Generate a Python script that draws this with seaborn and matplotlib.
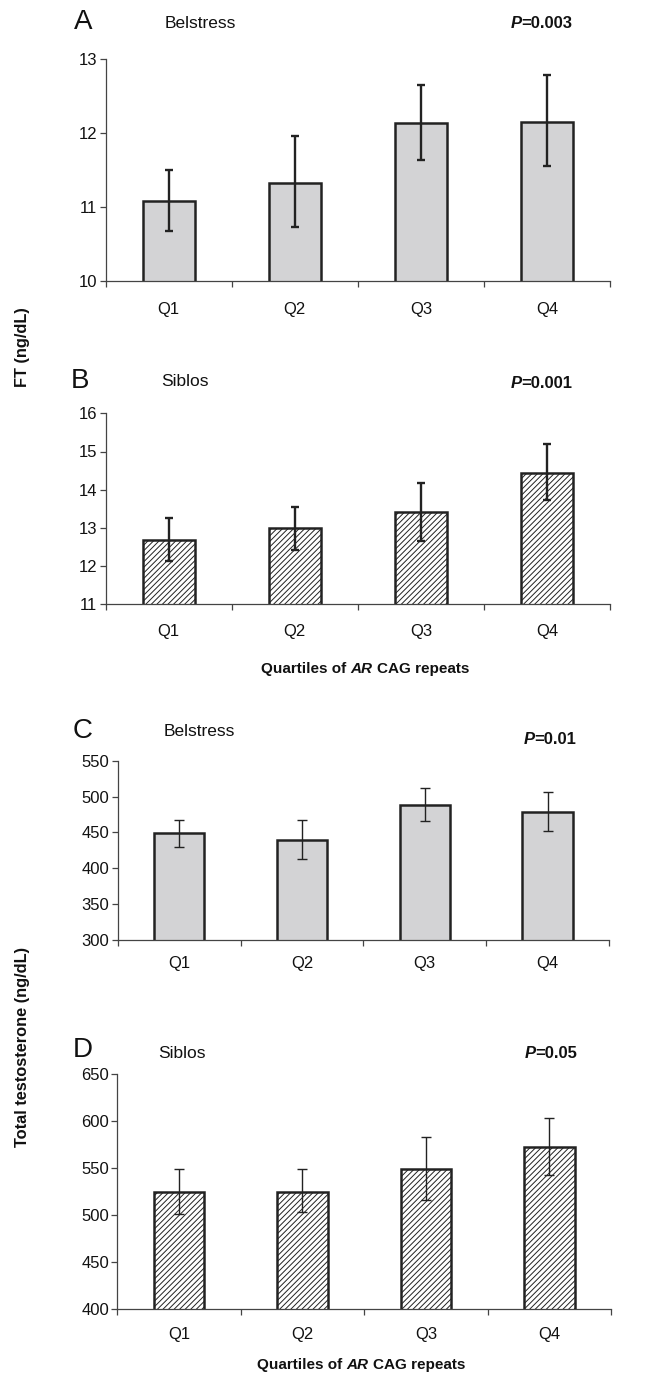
import matplotlib
matplotlib.use("Agg")
import matplotlib.pyplot as plt
import seaborn as sns
import pandas as pd
import numpy as np

# ---- data ----
quartiles = ["Q1", "Q2", "Q3", "Q4"]

A_mean = [11.08, 11.33, 12.14, 12.15]
A_low = [10.67, 10.73, 11.63, 11.56]
A_high = [11.50, 11.96, 12.65, 12.78]

B_mean = [12.69, 13.00, 13.42, 14.45]
B_low = [12.13, 12.42, 12.65, 13.74]
B_high = [13.25, 13.55, 14.18, 15.20]

C_mean = [449, 439, 488, 478]
C_low = [429, 413, 466, 452]
C_high = [467, 467, 512, 507]

D_mean = [525, 525, 549, 572]
D_low = [501, 503, 516, 543]
D_high = [549, 549, 583, 603]

panel_letters = ["A", "B", "C", "D"]
cohorts = ["Belstress", "Siblos", "Belstress", "Siblos"]
p_values = ["=0.003", "=0.001", "=0.01", "=0.05"]
y_ticks_A = [10, 11, 12, 13]
y_ticks_B = [11, 12, 13, 14, 15, 16]
y_ticks_C = [300, 350, 400, 450, 500, 550]
y_ticks_D = [400, 450, 500, 550, 600, 650]

sns.set_theme(style="white")
plt.rcParams['font.family'] = ['Liberation Sans', 'DejaVu Sans']
plt.rcParams['hatch.linewidth'] = 0.7
plt.rcParams['hatch.color'] = '#333333'

W, H = 662, 1374
fig = plt.figure(figsize=(W / 100, H / 100), dpi=100)
fig.patch.set_facecolor('white')


def rect(left, top, right, bottom):
    return [left / W, 1 - bottom / H, (right - left) / W, (bottom - top) / H]


panels = [
    dict(pos=rect(105.7, 59, 610, 281), mean=A_mean, low=A_low, high=A_high,
         ticks=y_ticks_A, hatch=None, elw=1.7, cap=2.6, pad=15),
    dict(pos=rect(105.7, 413.3, 610, 604.3), mean=B_mean, low=B_low, high=B_high,
         ticks=y_ticks_B, hatch='//////', elw=1.7, cap=2.6, pad=14),
    dict(pos=rect(117.7, 760.7, 609, 940), mean=C_mean, low=C_low, high=C_high,
         ticks=y_ticks_C, hatch=None, elw=1.0, cap=3.6, pad=11.5),
    dict(pos=rect(117.3, 1074, 611, 1309.3), mean=D_mean, low=D_low, high=D_high,
         ticks=y_ticks_D, hatch='//////', elw=1.0, cap=3.6, pad=13),
]

edge = '#222222'
gray = '#d3d3d5'

for p in panels:
    ax = fig.add_axes(p['pos'])
    df = pd.DataFrame({"q": quartiles, "v": p['mean']})
    sns.barplot(data=df, x="q", y="v", ax=ax,
                color=gray if p['hatch'] is None else 'white',
                edgecolor=edge, linewidth=1.8, width=0.41, saturation=1)
    for patch in ax.patches:
        patch.set_facecolor(gray if p['hatch'] is None else 'white')
        if p['hatch']:
            patch.set_hatch(p['hatch'])
    mean = np.array(p['mean'], dtype=float)
    yerr = [mean - np.array(p['low']), np.array(p['high']) - mean]
    ax.errorbar(np.arange(len(quartiles)), mean, yerr=yerr, fmt='none',
                ecolor=edge, elinewidth=p['elw'], capsize=p['cap'],
                capthick=p['elw'], zorder=5)
    ax.set_ylim(p['ticks'][0], p['ticks'][-1])
    ax.set_yticks(p['ticks'])
    ax.set_xlim(-0.5, 3.5)
    ax.set_xticks(np.arange(len(quartiles)))
    ax.set_xticklabels(quartiles)
    ax.set_xticks([-0.5, 0.5, 1.5, 2.5, 3.5], minor=True)
    ax.tick_params(axis='x', which='major', length=0, pad=p['pad'],
                   labelsize=12, colors='#111111')
    ax.tick_params(axis='x', which='minor', length=4.5, width=0.9,
                   direction='out', color='#444444', bottom=True)
    ax.tick_params(axis='y', which='major', length=4, width=0.9,
                   direction='out', color='#444444', left=True, pad=2,
                   labelsize=12, labelcolor='#111111')
    ax.set_xlabel("")
    ax.set_ylabel("")
    for s in ['top', 'right']:
        ax.spines[s].set_visible(False)
    for s in ['left', 'bottom']:
        ax.spines[s].set_color('#444444')
        ax.spines[s].set_linewidth(0.9)
    ax.set_facecolor('white')


def fx(x):
    return x / W


def fy(y):
    return 1 - y / H


# panel letters and cohort names
letter_pos = [(83, 22), (80, 381), (83, 731), (83, 1050)]
cohort_pos = [(165, 24), (161, 382), (164, 732), (158, 1053)]
p_pos = [(572, 24), (572, 384), (576, 740), (577, 1053)]
for L, (x, y) in zip(panel_letters, letter_pos):
    fig.text(fx(x), fy(y), L, ha='center', va='center', fontsize=20, color='#111111')
for c, (x, y) in zip(cohorts, cohort_pos):
    fig.text(fx(x), fy(y), c, ha='left', va='center', fontsize=12.5, color='#111111')

fig.canvas.draw()
renderer = fig.canvas.get_renderer()

for pv, (x, y) in zip(p_values, p_pos):
    t = fig.text(fx(x), fy(y), pv, ha='right', va='center', fontsize=12,
                 fontweight='bold', color='#111111')
    bb = t.get_window_extent(renderer)
    fig.text((bb.x0 + 1) / W, fy(y), "P", ha='right', va='center', fontsize=12,
             fontweight='bold', fontstyle='italic', color='#111111')


def rich_centered(cx, cy, segments, fontsize=11):
    tmp = []
    widths = []
    for txt, style in segments:
        t = fig.text(0, 0, txt, fontsize=fontsize, fontweight='bold', fontstyle=style)
        widths.append(t.get_window_extent(renderer).width)
        tmp.append(t)
    for t in tmp:
        t.remove()
    sp = fig.text(0, 0, "x x", fontsize=fontsize, fontweight='bold')
    sx = fig.text(0, 0, "xx", fontsize=fontsize, fontweight='bold')
    space = sp.get_window_extent(renderer).width - sx.get_window_extent(renderer).width
    sp.remove(); sx.remove()
    total = sum(widths) + space * (len(segments) - 1)
    x = cx - total / 2
    for (txt, style), w in zip(segments, widths):
        fig.text(x / W, fy(cy), txt, ha='left', va='center', fontsize=fontsize,
                 fontweight='bold', fontstyle=style, color='#111111')
        x += w + space


xlab = [("Quartiles of", 'normal'), ("AR", 'italic'), ("CAG repeats", 'normal')]
rich_centered(365, 669, xlab)
rich_centered(361, 1365, xlab)

fig.text(fx(23), fy(347), "FT (ng/dL)", rotation=90, ha='center', va='center',
         fontsize=11.8, fontweight='bold', color='#111111')
fig.text(fx(23), fy(1047), "Total testosterone (ng/dL)", rotation=90, ha='center',
         va='center', fontsize=11.8, fontweight='bold', color='#111111')

fig.savefig("out.png", dpi=100, facecolor='white')
